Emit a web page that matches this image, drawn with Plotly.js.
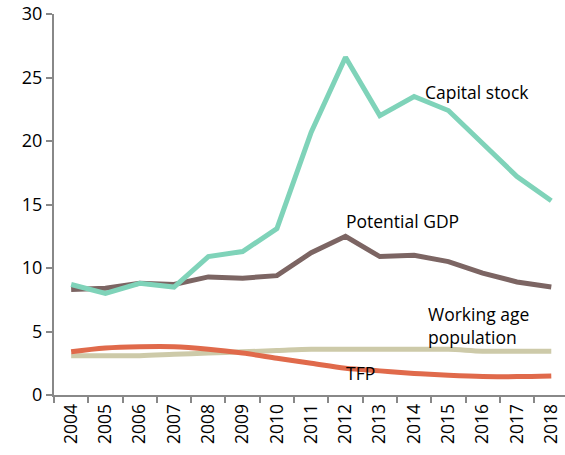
<!DOCTYPE html>
<html><head><meta charset="utf-8">
<script src="https://cdn.plot.ly/plotly-3.0.1.min.js"></script>
<style>html,body{margin:0;padding:0;background:#fff}</style>
</head><body>
<div id="chart" style="width:565px;height:455px"></div>
<script>
const years = ['2004','2005','2006','2007','2008','2009','2010','2011','2012','2013','2014','2015','2016','2017','2018'];
const capitalStock = [8.7, 8.0, 8.8, 8.5, 10.9, 11.3, 13.1, 20.7, 26.6, 22.0, 23.5, 22.4, 19.8, 17.2, 15.3];
const potentialGDP = [8.3, 8.4, 8.8, 8.7, 9.3, 9.2, 9.4, 11.2, 12.5, 10.9, 11.0, 10.5, 9.6, 8.9, 8.5];
const workingAge = [3.1, 3.1, 3.1, 3.2, 3.3, 3.4, 3.5, 3.6, 3.6, 3.6, 3.6, 3.6, 3.45, 3.45, 3.45];
const tfp = [3.4, 3.7, 3.8, 3.8, 3.6, 3.3, 2.9, 2.5, 2.1, 1.9, 1.7, 1.55, 1.45, 1.45, 1.5];
const labels = ['Capital stock', 'Potential GDP', 'Working age<br>population', 'TFP'];

const FONT = 'Open Sans, Liberation Sans, sans-serif';
const traces = [
  {x: years, y: workingAge, name: 'Working age population', mode: 'lines', line: {color: '#cdcaa9', width: 5, shape: 'spline'}},
  {x: years, y: tfp, name: 'TFP', mode: 'lines', line: {color: '#e06a4b', width: 5, shape: 'spline'}},
  {x: years, y: potentialGDP, name: 'Potential GDP', mode: 'lines', line: {color: '#7c6563', width: 5}},
  {x: years, y: capitalStock, name: 'Capital stock', mode: 'lines', line: {color: '#7fd3b9', width: 5}}
];
const layout = {
  width: 565, height: 455,
  margin: {l: 54, r: 0, t: 14, b: 60},
  showlegend: false,
  paper_bgcolor: '#fff', plot_bgcolor: '#fff',
  font: {family: FONT, size: 18, color: '#000'},
  xaxis: {
    type: 'category', tickangle: -90, showgrid: false, zeroline: false,
    showline: true, linecolor: '#888', linewidth: 2,
    ticks: 'outside', ticklen: 6, tickcolor: '#888', tickwidth: 2,
    tickson: 'boundaries', range: [-0.5, 14.4],
    tickfont: {family: FONT, size: 17.5, color: '#000'}
  },
  yaxis: {
    range: [0, 30], dtick: 5, showgrid: false, zeroline: false,
    showline: true, linecolor: '#888', linewidth: 2,
    ticks: 'outside', ticklen: 6, tickcolor: '#888', tickwidth: 2,
    tickfont: {family: FONT, size: 18, color: '#000'}
  },
  annotations: [
    {x: 11.82, y: 23.86, text: labels[0], showarrow: false, font: {size: 17.5}},
    {x: 9.66, y: 13.7, text: labels[1], showarrow: false, font: {size: 17.5}},
    {x: 10.36, y: 5.47, text: labels[2], showarrow: false, align: 'left', xanchor: 'left', font: {size: 17.5}},
    {x: 8.45, y: 1.73, text: labels[3], showarrow: false, font: {size: 17.5}}
  ]
};
Plotly.newPlot('chart', traces, layout, {displayModeBar: false, staticPlot: true});
</script>
</body></html>
